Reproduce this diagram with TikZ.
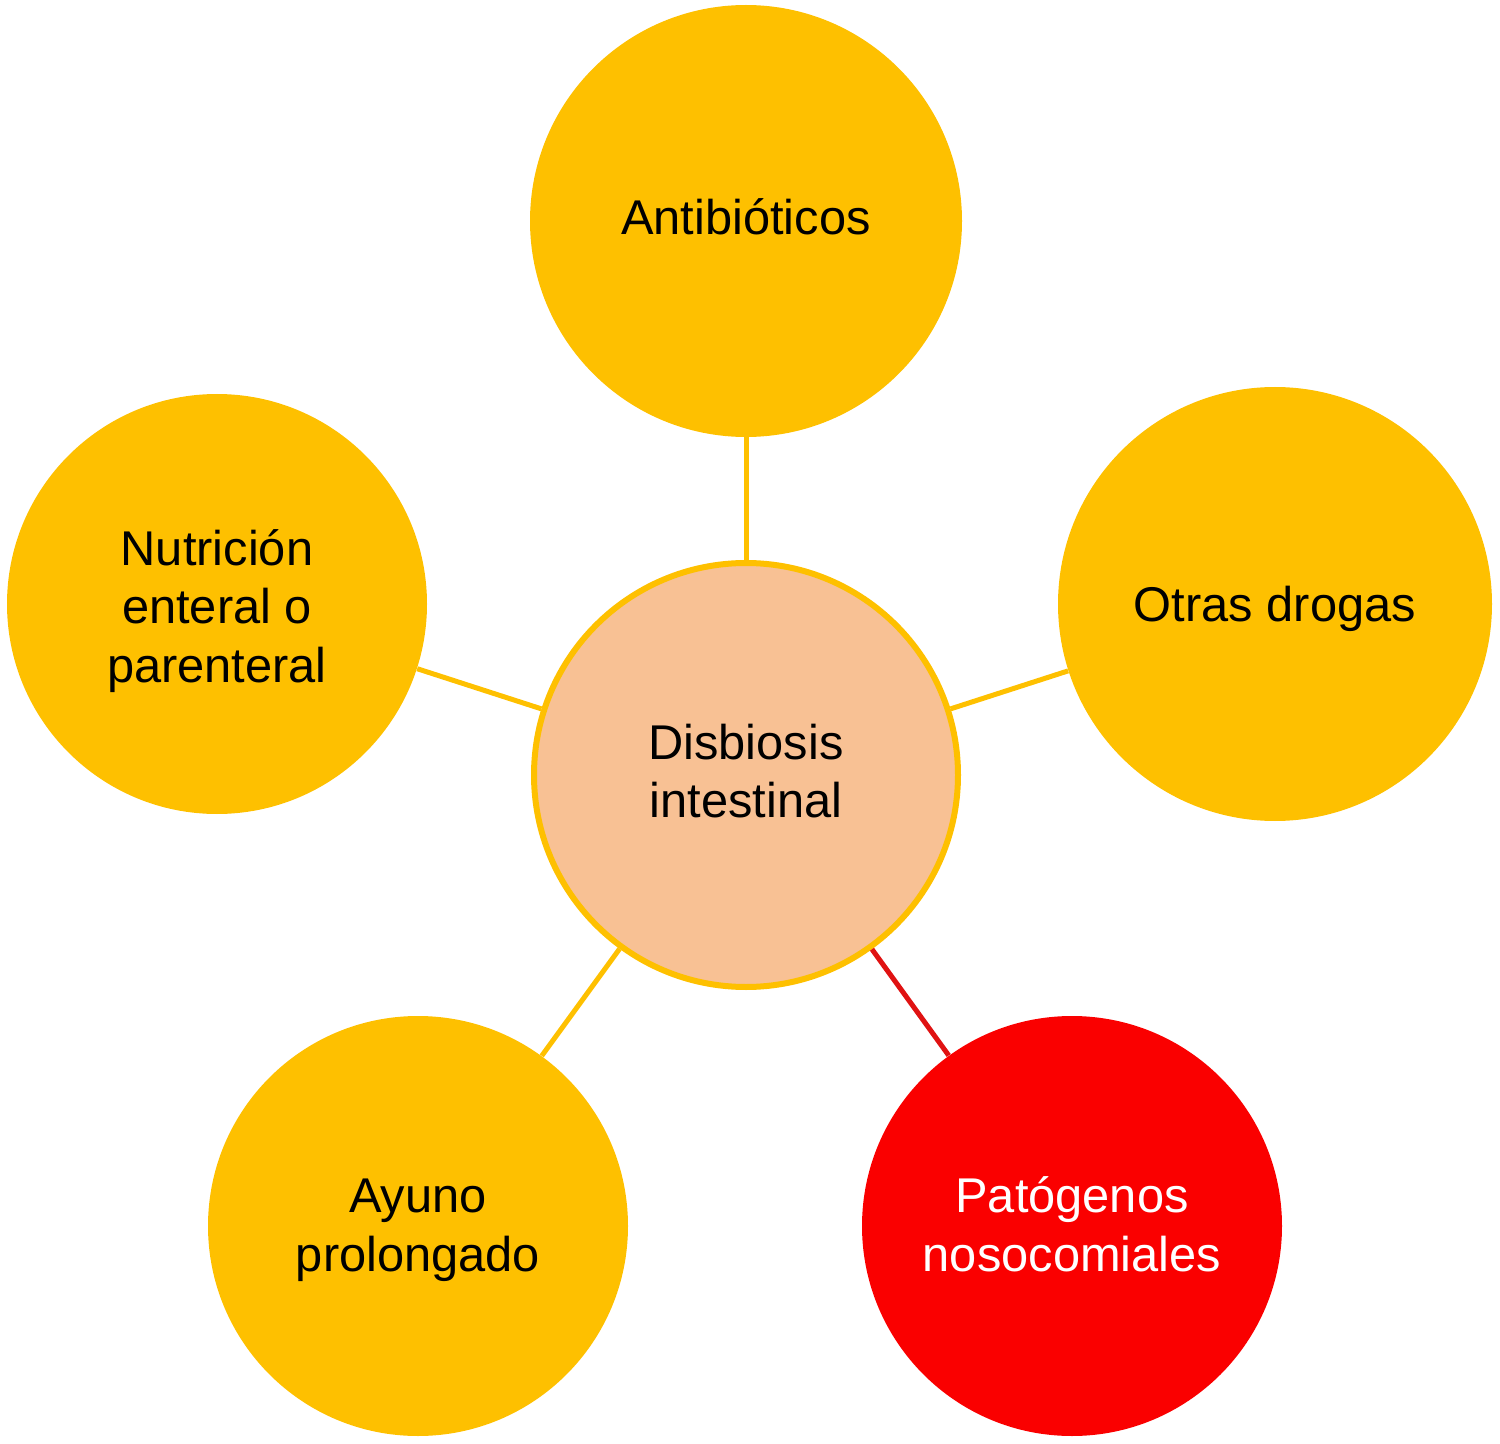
\documentclass[tikz,border=0pt]{standalone}
\usepackage{fontspec}
\setmainfont{Liberation Sans}
\definecolor{gold}{HTML}{FEC000}
\definecolor{peach}{HTML}{F8C194}
\definecolor{hotred}{HTML}{FA0000}
\definecolor{linered}{HTML}{E01212}
\begin{document}
\begin{tikzpicture}[x=0.5pt,y=-0.5pt,
  lbl/.style={font=\fontsize{24.4}{29.4}\selectfont, align=center},
  bubble/.style={circle, fill=gold, inner sep=0pt},
  hub/.style={circle, fill=peach, draw=gold, line width=3pt, inner sep=0pt, minimum size=212pt},
  link/.style={draw=gold, line width=2.5pt},
  redlink/.style={draw=linered, line width=2.5pt}]
\useasboundingbox (0,0) rectangle (1500,1444);
\node[hub, label={[lbl, yshift=2pt]center:Disbiosis\\intestinal}] (c) at (746,775) {};
\node[bubble, minimum size=216pt, label={[lbl, yshift=2pt]center:Antibióticos}] (a) at (746,221) {};
\node[bubble, minimum size=217pt, label={[lbl, yshift=-2.5pt]center:Otras drogas}] (o) at (1275,604) {};
\node[bubble, minimum size=210pt, label={[lbl, yshift=-3.5pt]center:Nutrición\\enteral o\\parenteral}] (n) at (217,604) {};
\node[bubble, minimum size=210pt, label={[lbl, yshift=-2pt]center:Ayuno\\prolongado}] (y) at (418,1226) {};
\node[bubble, fill=hotred, minimum size=210pt, label={[lbl, text=white, yshift=1pt]center:Patógenos\\nosocomiales}] (p) at (1072,1226) {};
\draw[link] (c) -- (a);
\draw[link] (c) -- (o);
\draw[link] (c) -- (n);
\draw[link] (c) -- (y);
\draw[redlink] (c) -- (p);
\end{tikzpicture}
\end{document}
